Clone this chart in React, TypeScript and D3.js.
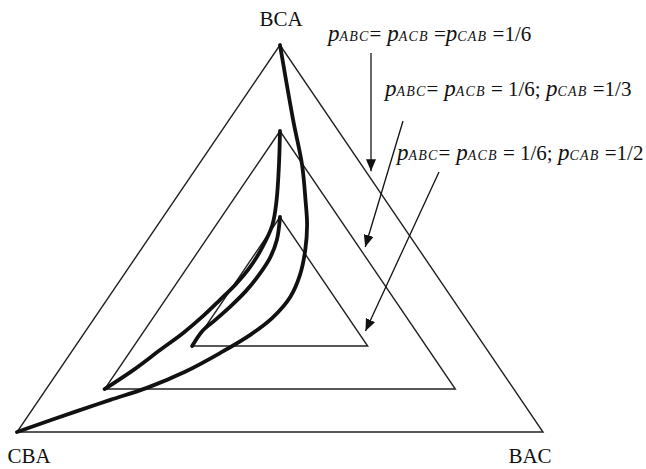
import React from "react";
import * as d3 from "d3";

// Ternary plot of ranking probabilities: each point is [p(BCA), p(CBA), p(BAC)].
const VERTEX_LABELS = ["BCA", "CBA", "BAC"];

// Nested triangles: region where every share is at least this level.
const LEVELS = [0, 1 / 9, 2 / 9];

type Tern = [number, number, number];

// Trajectories for the three parameter settings.
const pathEqual: Tern[] = [
  [1, 0, 0],
  [0.806, 0.072, 0.122],
  [0.69, 0.113, 0.197],
  [0.599, 0.152, 0.249],
  [0.535, 0.181, 0.284],
  [0.47, 0.217, 0.313],
  [0.406, 0.259, 0.335],
  [0.349, 0.306, 0.345],
  [0.295, 0.367, 0.338],
  [0.251, 0.431, 0.318],
  [0.204, 0.512, 0.284],
  [0.155, 0.604, 0.241],
  [0.114, 0.696, 0.19],
  [0.083, 0.781, 0.136],
  [0.054, 0.859, 0.087],
  [0, 1, 0],
];

const pathThird: Tern[] = [
  [0.778, 0.111, 0.111],
  [0.69, 0.157, 0.153],
  [0.599, 0.207, 0.194],
  [0.535, 0.247, 0.218],
  [0.475, 0.297, 0.228],
  [0.426, 0.344, 0.23],
  [0.382, 0.393, 0.225],
  [0.341, 0.444, 0.215],
  [0.3, 0.496, 0.204],
  [0.256, 0.556, 0.188],
  [0.212, 0.622, 0.166],
  [0.16, 0.699, 0.141],
  [0.111, 0.778, 0.111],
];

const pathHalf: Tern[] = [
  [0.556, 0.222, 0.222],
  [0.496, 0.258, 0.246],
  [0.45, 0.294, 0.256],
  [0.406, 0.337, 0.257],
  [0.364, 0.383, 0.253],
  [0.326, 0.43, 0.244],
  [0.289, 0.479, 0.232],
  [0.261, 0.517, 0.222],
  [0.222, 0.556, 0.222],
];

const PATHS = [pathEqual, pathThird, pathHalf];

// Annotation text pieces: [text, isSubscript, italic]
type Piece = [string, boolean, boolean];
const NOTE_EQUAL: Piece[] = [
  ["p", false, true], ["ABC", true, true], ["=", false, false],
  [" p", false, true], ["ACB", true, true], [" =", false, false],
  ["p", false, true], ["CAB", true, true], [" =1/6", false, false],
];
const NOTE_THIRD: Piece[] = [
  ["p", false, true], ["ABC", true, true], ["=", false, false],
  [" p", false, true], ["ACB", true, true], [" = 1/6; ", false, false],
  ["p", false, true], ["CAB", true, true], [" =1/3", false, false],
];
const NOTE_HALF: Piece[] = [
  ["p", false, true], ["ABC", true, true], ["=", false, false],
  [" p", false, true], ["ACB", true, true], [" = 1/6; ", false, false],
  ["p", false, true], ["CAB", true, true], [" =1/2", false, false],
];
const NOTES = [NOTE_EQUAL, NOTE_THIRD, NOTE_HALF];

// Arrow tips on the right edge of each nested triangle (ternary coords)
const ARROW_TIPS: Tern[] = [
  [0.674, -0.01, 0.336],
  [0.478, 0.099, 0.423],
  [0.261, 0.207, 0.532],
];

const W = 646;
const H = 469;
const FONT = "'Liberation Serif', 'Times New Roman', serif";

// Label layout: text anchor and arrow tail
const NOTE_POS = [
  { x: 328, y: 41, tail: [371, 53] },
  { x: 385, y: 96, tail: [403, 121] },
  { x: 397, y: 160, tail: [439, 172] },
];

export default function App() {
  const x = d3.scaleLinear().domain([0, 1]).range([17, 543]);
  const y = d3.scaleLinear().domain([0, 1]).range([432, 45]);
  const project = (p: Tern): [number, number] => [x(p[2] + p[0] / 2), y(p[0])];

  const line = d3
    .line<Tern>()
    .x((d) => project(d)[0])
    .y((d) => project(d)[1])
    .curve(d3.curveCatmullRom.alpha(0.5));

  const triangles = LEVELS.map((m) => {
    const verts: Tern[] = [
      [1 - 2 * m, m, m],
      [m, 1 - 2 * m, m],
      [m, m, 1 - 2 * m],
    ];
    return verts.map(project);
  });

  const outer = triangles[0];

  const pieceSize = (sub: boolean, it: boolean) => (sub ? 14 : it ? 23 : 21);

  return (
    <svg
      width={W}
      height={H}
      style={{ position: "absolute", left: 0, top: 0, background: "#fff" }}
    >
      <defs>
        <marker
          id="head"
          viewBox="0 0 12 10"
          refX={12}
          refY={5}
          markerWidth={12}
          markerHeight={10}
          markerUnits="userSpaceOnUse"
          orient="auto"
        >
          <path d="M0,0 L12,5 L0,10 Z" fill="#111" />
        </marker>
      </defs>

      {triangles.map((t, i) => (
        <polygon
          key={i}
          points={t.map((p) => p.join(",")).join(" ")}
          fill="none"
          stroke="#222"
          strokeWidth={1.4}
          strokeLinejoin="miter"
        />
      ))}

      {PATHS.map((p, i) => (
        <path
          key={i}
          d={line(p) || ""}
          fill="none"
          stroke="#111"
          strokeWidth={3.8}
          strokeLinejoin="round"
          strokeLinecap="round"
        />
      ))}

      {/* vertex labels */}
      <text x={outer[0][0] + 1} y={26} textAnchor="middle" fontFamily={FONT} fontSize={21} fill="#111">
        {VERTEX_LABELS[0]}
      </text>
      <text x={outer[1][0] + 12} y={463} textAnchor="middle" fontFamily={FONT} fontSize={21} fill="#111">
        {VERTEX_LABELS[1]}
      </text>
      <text x={outer[2][0] - 13} y={463} textAnchor="middle" fontFamily={FONT} fontSize={21} fill="#111">
        {VERTEX_LABELS[2]}
      </text>

      {/* annotations */}
      {NOTES.map((pieces, i) => {
        const pos = NOTE_POS[i];
        const tip = project(ARROW_TIPS[i]);
        return (
          <g key={i}>
            <text x={pos.x} y={pos.y} fontFamily={FONT} fontSize={21} fill="#111" xmlSpace="preserve">
              {pieces.map(([t, sub, it], j) => (
                <tspan
                  key={j}
                  fontStyle={it ? "italic" : "normal"}
                  fontSize={pieceSize(sub, it)}
                  letterSpacing={sub ? 1.2 : 0}
                  style={{ whiteSpace: "pre" }}
                >
                  {t}
                </tspan>
              ))}
            </text>
            <line
              x1={pos.tail[0]}
              y1={pos.tail[1]}
              x2={tip[0]}
              y2={tip[1]}
              stroke="#111"
              strokeWidth={1.3}
              markerEnd="url(#head)"
            />
          </g>
        );
      })}
    </svg>
  );
}
